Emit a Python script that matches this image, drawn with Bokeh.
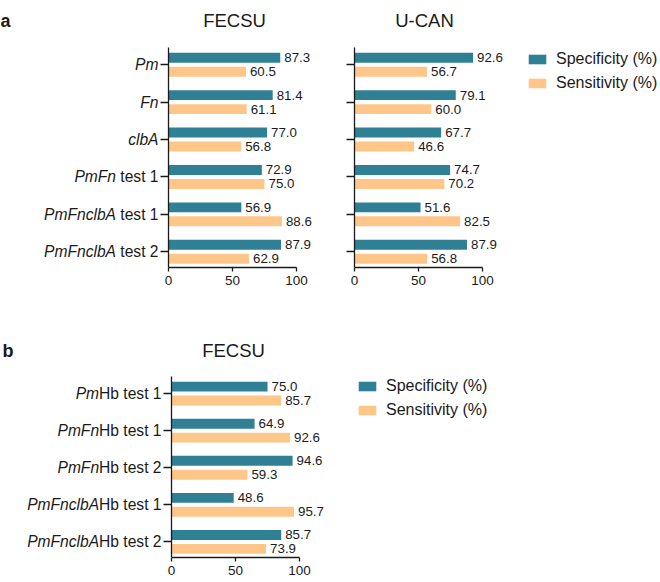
from bokeh.plotting import figure
from bokeh.models import Range1d, FixedTicker, Legend, LegendItem, ColumnDataSource
from bokeh.layouts import row, column
from bokeh.transform import dodge
from bokeh.core.properties import value
from bokeh.embed import file_html
from bokeh.resources import INLINE

# ---------------- data ----------------
a_italic = ["Pm", "Fn", "clbA", "PmFn", "PmFnclbA", "PmFnclbA"]
a_regular = ["", "", "", " test 1", " test 1", " test 2"]
fecsu_spec = [87.3, 81.4, 77.0, 72.9, 56.9, 87.9]
fecsu_sens = [60.5, 61.1, 56.8, 75.0, 88.6, 62.9]
ucan_spec = [92.6, 79.1, 67.7, 74.7, 51.6, 87.9]
ucan_sens = [56.7, 60.0, 46.6, 70.2, 82.5, 56.8]

b_italic = ["Pm", "PmFn", "PmFn", "PmFnclbA", "PmFnclbA"]
b_regular = ["Hb test 1", "Hb test 1", "Hb test 2", "Hb test 1", "Hb test 2"]
b_spec = [75.0, 64.9, 94.6, 48.6, 85.7]
b_sens = [85.7, 92.6, 59.3, 95.7, 73.9]

x_ticks = [0, 50, 100]
x_axis_max = 100
series_names = ["Specificity (%)", "Sensitivity (%)"]

# ---------------- style ----------------
FONT = "Liberation Sans"
TXT = "#1a1a1a"
SPEC_COLOR = "#2F8094"
SENS_COLOR = "#FFC68A"
PX_PER_UNIT = 1.28
PAD_TOP, PAD_BOT = 0.46, 0.42
CAT_SIZE = 15.6

# Arial / Liberation Sans advance widths (per 1000 em) for the plain-text parts
ADV = {" ": 278, "t": 278, "e": 556, "s": 500, "1": 556, "2": 556, "H": 722, "b": 556}


def text_width(s, size):
    return sum(ADV.get(c, 556) for c in s) * size / 1000.0


def make_panel(ital, reg, spec, sens, width, height, zero_px, axis_top_px,
               axis_h_px, bottom_px, title, title_dx, title_dy, letter=None,
               letter_dx=0, legend_loc=None):
    n = len(spec)
    pitch = axis_h_px / (n - 1 + PAD_TOP + PAD_BOT)
    frame_h = height - bottom_px
    y_top_axis = -PAD_TOP
    y_bot_axis = n - 1 + PAD_BOT
    y_top_frame = y_top_axis - axis_top_px / pitch
    y_bot_frame = y_top_frame + frame_h / pitch
    x_start = -zero_px / PX_PER_UNIT
    x_end = (width - zero_px) / PX_PER_UNIT

    src = ColumnDataSource(dict(
        y=list(range(n)),
        spec=spec, sens=sens,
        spec_lbl=["%.1f" % v for v in spec],
        sens_lbl=["%.1f" % v for v in sens],
    ))
    p = figure(width=width, height=height, output_backend="svg", toolbar_location=None,
               x_range=Range1d(x_start, x_end), y_range=Range1d(y_bot_frame, y_top_frame),
               min_border_left=0, min_border_right=0, min_border_top=0,
               min_border_bottom=bottom_px)
    p.outline_line_color = None
    p.xgrid.visible = False
    p.ygrid.visible = False

    bh = 0.267
    off = 0.187
    r1 = p.hbar(y=dodge("y", -off), right="spec", left=0, height=bh, source=src,
                fill_color=SPEC_COLOR, line_color=None)
    r2 = p.hbar(y=dodge("y", off), right="sens", left=0, height=bh, source=src,
                fill_color=SENS_COLOR, line_color=None)
    for col, lbl, d in (("spec", "spec_lbl", -off), ("sens", "sens_lbl", off)):
        p.text(x=col, y=dodge("y", d), text=lbl, source=src, x_offset=4,
               text_baseline="middle", text_align="left",
               text_font=value(FONT), text_font_size="13.3px", text_color=TXT)

    # x axis
    xa = p.xaxis[0]
    xa.ticker = FixedTicker(ticks=x_ticks)
    xa.bounds = (0, x_axis_max)
    xa.major_tick_out = 4
    xa.major_tick_in = 0
    xa.minor_tick_out = 0
    xa.minor_tick_in = 0
    xa.axis_line_width = 1.3
    xa.major_tick_line_width = 1.3
    xa.axis_line_color = TXT
    xa.major_tick_line_color = TXT
    xa.major_label_text_font = FONT
    xa.major_label_text_font_size = "13.5px"
    xa.major_label_text_color = TXT
    xa.major_label_standoff = 4

    # y axis at x = 0 (labels drawn separately for mixed italic / regular text)
    ya = p.yaxis[0]
    ya.fixed_location = 0
    ya.bounds = (y_top_axis, y_bot_axis)
    ya.ticker = FixedTicker(ticks=list(range(n)))
    ya.major_label_overrides = {i: "" for i in range(n)}
    ya.major_tick_out = 8
    ya.major_tick_in = 0
    ya.minor_tick_out = 0
    ya.minor_tick_in = 0
    ya.axis_line_width = 1.3
    ya.major_tick_line_width = 1.3
    ya.axis_line_color = TXT
    ya.major_tick_line_color = TXT

    if ital is not None:
        lsrc = ColumnDataSource(dict(
            y=list(range(n)), ital=ital, reg=[r.strip() for r in reg],
            ital_off=[-10 - text_width(r, CAT_SIZE) for r in reg],
        ))
        p.text(x=0, y="y", text="reg", source=lsrc, x_offset=-10,
               text_align="right", text_baseline="middle",
               text_font=value(FONT), text_font_size="%gpx" % CAT_SIZE, text_color=TXT)
        p.text(x=0, y="y", text="ital", source=lsrc, x_offset="ital_off",
               text_align="right", text_baseline="middle",
               text_font=value(FONT), text_font_size="%gpx" % CAT_SIZE,
               text_font_style="italic", text_color=TXT)

    # panel title
    p.text(x=[x_axis_max / 2], y=[y_top_axis], text=[title], x_offset=title_dx,
           y_offset=title_dy, text_align="center", text_baseline="alphabetic",
           text_font=value(FONT), text_font_size="18.5px", text_color=TXT)
    if letter is not None:
        p.text(x=[x_start], y=[y_top_axis], text=[letter], x_offset=letter_dx,
               y_offset=title_dy, text_align="left", text_baseline="alphabetic",
               text_font=value(FONT), text_font_size="18px",
               text_font_style="bold", text_color=TXT)
    if legend_loc is not None:
        leg = Legend(items=[LegendItem(label=series_names[0], renderers=[r1]),
                            LegendItem(label=series_names[1], renderers=[r2])],
                     location=legend_loc, orientation="vertical",
                     border_line_color=None, background_fill_alpha=0,
                     padding=0, margin=0, spacing=6,
                     glyph_width=22, glyph_height=12, label_height=17,
                     label_standoff=8, label_text_font=FONT,
                     label_text_font_size="16px", label_text_color=TXT)
        p.add_layout(leg)
    return p


pa1 = make_panel(a_italic, a_regular, fecsu_spec, fecsu_sens,
                 width=328, height=305, zero_px=168, axis_top_px=47, axis_h_px=220,
                 bottom_px=38, title="FECSU", title_dx=2, title_dy=-27, letter="a")
pa2 = make_panel(None, None, ucan_spec, ucan_sens,
                 width=330, height=305, zero_px=26, axis_top_px=47, axis_h_px=220,
                 bottom_px=38, title="U-CAN", title_dx=6, title_dy=-27,
                 legend_loc=(198, 175))
pb = make_panel(b_italic, b_regular, b_spec, b_sens,
                width=658, height=275, zero_px=171, axis_top_px=71, axis_h_px=181,
                bottom_px=23, title="FECSU", title_dx=-2, title_dy=-26,
                letter="b", letter_dx=2, legend_loc=(356, 138))

layout = column(row(pa1, pa2), pb)
open("out.html", "w").write(file_html(layout, INLINE))
